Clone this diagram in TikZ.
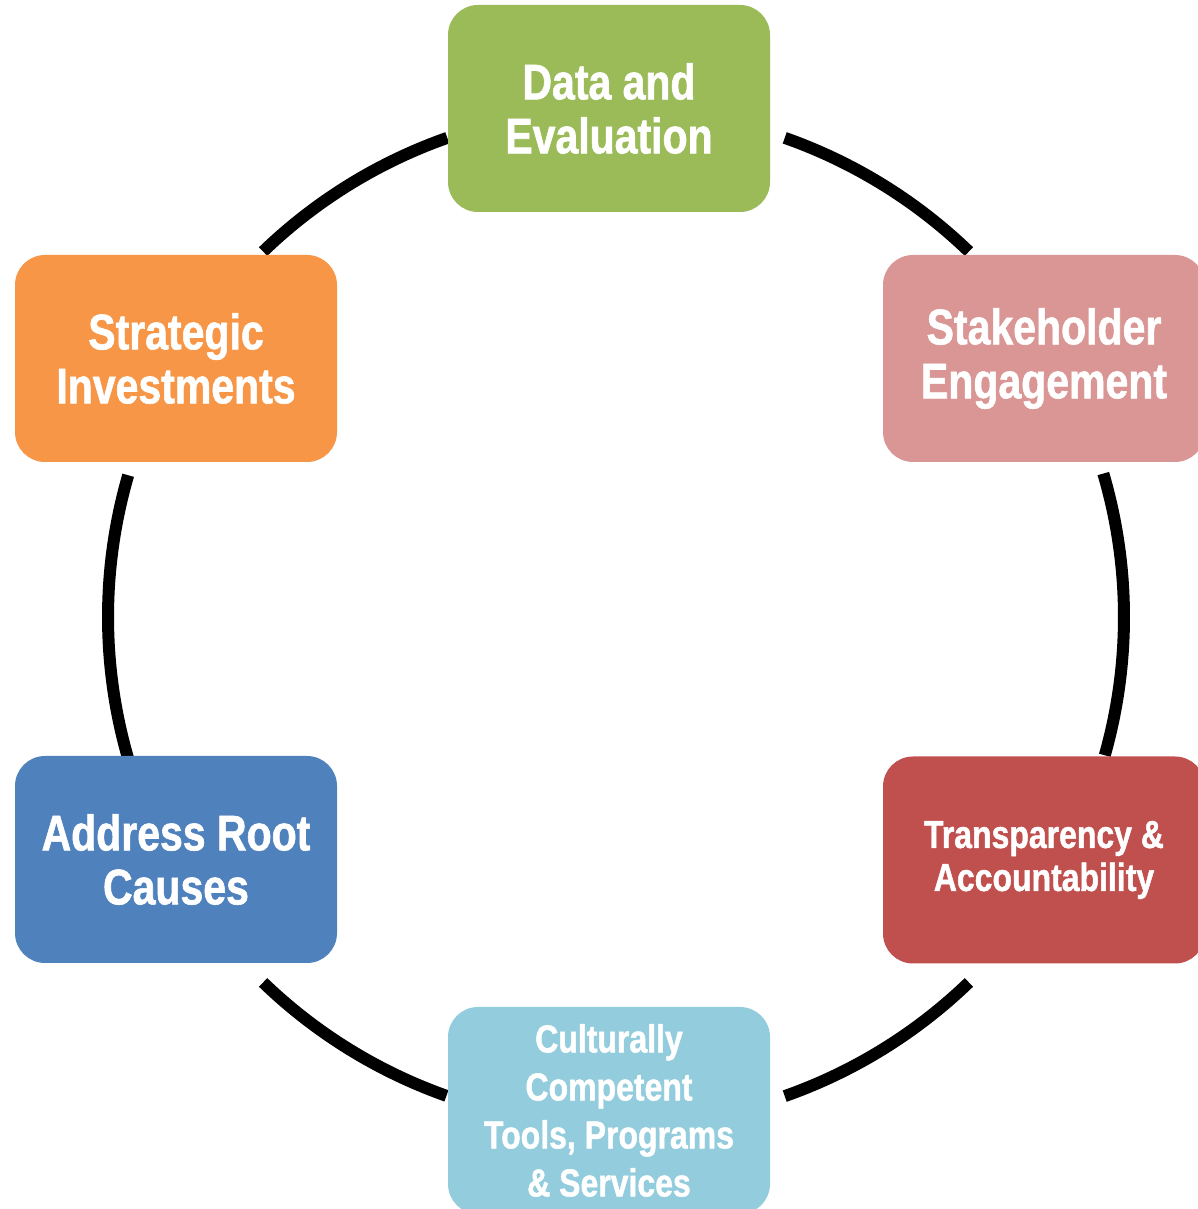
\documentclass[tikz,border=0pt]{standalone}
\usepackage{fontspec}
\newfontfamily\boxfont{Liberation Sans}[FakeStretch=0.82,FakeBold=1.2]
\usetikzlibrary{calc}
\definecolor{cgreen}{HTML}{9BBB59}
\definecolor{cpink}{HTML}{D99694}
\definecolor{cred}{HTML}{C0504D}
\definecolor{clblue}{HTML}{93CDDD}
\definecolor{cblue}{HTML}{4F81BD}
\definecolor{corange}{HTML}{F79646}
\tikzset{
  stagebox/.style={rectangle, rounded corners=22.5pt, minimum width=241.5pt,
    minimum height=155.25pt, inner sep=0pt, text=white, align=center,
    font=\boxfont\bfseries\fontsize{37.5}{40.5}\selectfont},
  smalltext/.style={font=\boxfont\bfseries\fontsize{29.25}{32.25}\selectfont},
  smallertext/.style={font=\boxfont\bfseries\fontsize{29.25}{36}\selectfont},
  ring/.style={line width=9pt, line cap=butt, draw=black}
}
\begin{document}
\begin{tikzpicture}[x=0.75pt,y=0.75pt]
\useasboundingbox (0,0) rectangle (1197,1209);
\coordinate (c) at (616,592);
\def\R{508}
% arcs
\draw[ring] ($(c)+(46:\R)$) arc[start angle=46, end angle=70.6, radius=\R];
\draw[ring] ($(c)+(109.4:\R)$) arc[start angle=109.4, end angle=134, radius=\R];
\draw[ring] ($(c)+(163.8:\R)$) arc[start angle=163.8, end angle=196.2, radius=\R];
\draw[ring] ($(c)+(226:\R)$) arc[start angle=226, end angle=250.5, radius=\R];
\draw[ring] ($(c)+(289.4:\R)$) arc[start angle=289.4, end angle=314, radius=\R];
\draw[ring] ($(c)+(-15.8:\R)$) arc[start angle=-15.8, end angle=16.4, radius=\R];
% boxes
\node[stagebox, fill=cgreen] (data) at (609,1100.5) {Data and\\Evaluation};
\node[stagebox, fill=cpink] (stake) at (1044,850.5) {Stakeholder\\Engagement};
\node[stagebox, fill=cred, smalltext] (trans) at (1044,349) {Transparency \&\\Accountability};
\node[stagebox, fill=clblue, smallertext] (cult) at (609,98.5) {Culturally\\Competent\\Tools, Programs\\\& Services};
\node[stagebox, fill=cblue] (root) at (176,349.5) {Address Root\\Causes};
\node[stagebox, fill=corange] (strat) at (176,850.5) {Strategic\\Investments};
\end{tikzpicture}
\end{document}
